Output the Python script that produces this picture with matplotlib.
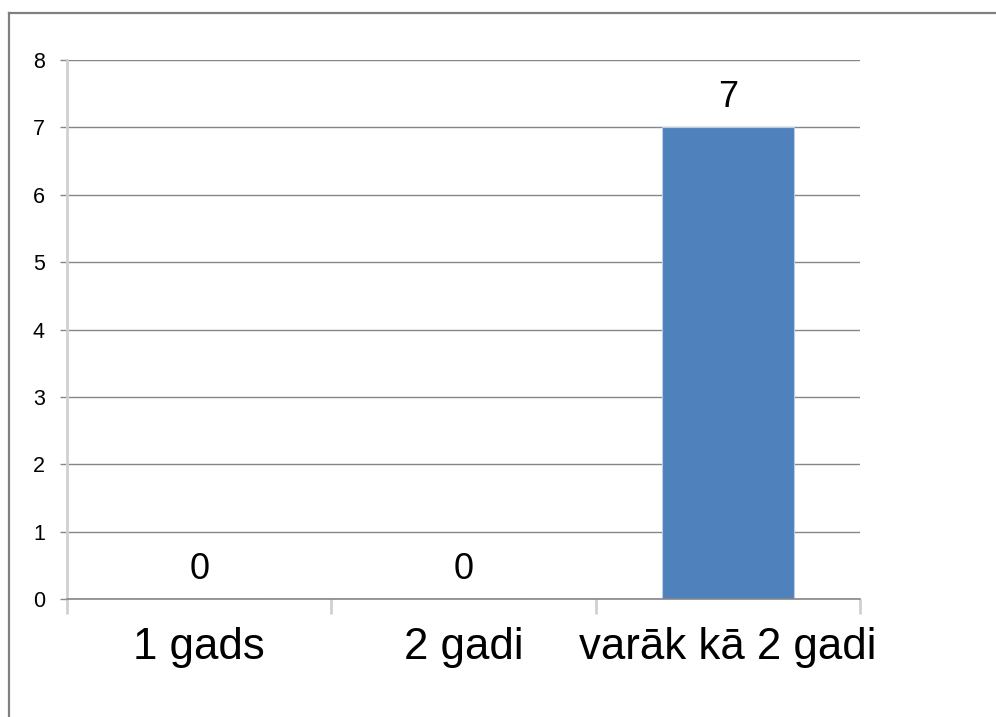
import matplotlib
matplotlib.use("Agg")
import matplotlib.pyplot as plt
from matplotlib.lines import Line2D

categories = ["1 gads", "2 gadi", "varāk kā 2 gadi"]
counts = [0, 0, 7]
y_ticks = [0, 1, 2, 3, 4, 5, 6, 7, 8]

W, H = 996, 717
plt.rcParams["font.family"] = ["Liberation Sans", "DejaVu Sans"]

fig = plt.figure(figsize=(W / 100, H / 100), dpi=100)
fig.patch.set_facecolor("white")

ax = fig.add_axes([67 / W, 1 - 599 / H, (860 - 67) / W, (599 - 60) / H])
ax.set_axisbelow(True)

x = list(range(len(categories)))
ax.bar(x, counts, width=0.5, color="#4F81BD", edgecolor="#B9CDE5", linewidth=0.8, zorder=2)

for xi, v in zip(x, counts):
    ax.annotate(str(v), (xi, v), xytext=(0, 14.5), textcoords="offset points",
                ha="center", va="baseline", fontsize=26, color="black")

ax.set_xlim(-0.5, len(categories) - 0.5)
ax.set_ylim(0, 8)
ax.set_yticks(y_ticks)
ax.set_yticklabels([str(t) for t in y_ticks])
ax.yaxis.grid(True, color="#868686", linewidth=1.0)

ax.set_xticks(x)
ax.set_xticklabels(categories, fontsize=31.5)
ax.set_xticks([i - 0.5 for i in range(len(categories) + 1)], minor=True)
ax.tick_params(axis="x", which="major", length=0, pad=20)
ax.tick_params(axis="x", which="minor", length=11, width=2, color="#D0D0D0", direction="out")
ax.tick_params(axis="y", length=5, width=1, color="#868686", labelsize=15.5, pad=11)

for side in ("top", "right"):
    ax.spines[side].set_visible(False)
ax.spines["bottom"].set_color("#868686")
ax.spines["bottom"].set_linewidth(1.2)
ax.spines["bottom"].set_zorder(3)
ax.spines["left"].set_color("#D0D0D0")
ax.spines["left"].set_linewidth(2)

# frame around the chart area (top and left edges)
fig.add_artist(Line2D([9 / W, 1], [1 - 13 / H, 1 - 13 / H], color="#808080", linewidth=1.6))
fig.add_artist(Line2D([9 / W, 9 / W], [0, 1 - 13 / H], color="#808080", linewidth=1.6))

fig.savefig("out.png", dpi=100, facecolor="white")
